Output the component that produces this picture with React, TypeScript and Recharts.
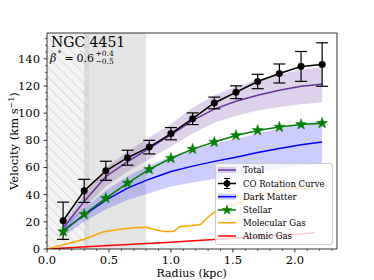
import React from 'react';
import {
  ComposedChart,
  Line,
  Area,
  XAxis,
  YAxis,
  ReferenceArea,
  ReferenceLine,
  ErrorBar,
  Legend,
} from 'recharts';

// ---------------- data ----------------
const radii = [0.13, 0.3, 0.475, 0.65, 0.825, 1.0, 1.175, 1.35, 1.525, 1.7, 1.875, 2.05, 2.22];
const coVelocity = [20.8, 42.8, 57.6, 67.2, 75.0, 84.9, 95.9, 107.5, 115.4, 123.3, 129.2, 134.4, 135.8];
const coError = [13.7, 8.5, 7.0, 5.5, 5.0, 4.5, 4.3, 4.3, 4.7, 5.3, 7.0, 11.0, 16.0];
const totalModel = [15.5, 35, 53.4, 64.4, 74, 84, 94.7, 103, 108.7, 113.2, 116.8, 119.8, 121.3];
const totalLow = [12, 30, 46, 57, 66, 75.5, 85, 93, 98, 102, 104.5, 106.5, 108];
const totalHigh = [19, 40, 60, 72, 82, 92, 104, 113, 119.5, 124.5, 128.5, 132, 134];
const darkMatter = [13.5, 25, 36, 44.8, 51.4, 57, 61, 64.5, 67.5, 71, 74, 76.7, 78.7];
const darkLow = [9, 20, 29, 36, 41, 46, 49, 51.5, 54, 56.5, 59, 61.5, 63];
const darkHigh = [17.7, 30, 43, 53.5, 61.5, 68, 73, 77.5, 81, 85, 88.5, 92, 94.7];
const stellar = [12.8, 25.6, 37.4, 48.5, 58.6, 66.8, 73.5, 78.7, 83.6, 87.3, 89.8, 91.7, 92.6];

const molRadii = [0, 0.1, 0.2, 0.3, 0.39, 0.45, 0.51, 0.59, 0.7, 0.8, 0.86, 0.94, 1.02, 1.074, 1.155, 1.24, 1.27, 1.32, 1.37, 1.43, 1.5, 1.61, 1.745, 1.88, 1.985, 2.16];
const molVelocity = [0, 2.5, 4.8, 7.2, 10.3, 12.5, 13.5, 14.5, 15.7, 16, 14.5, 12.8, 12.8, 16.5, 17.2, 18, 21, 25, 28.5, 30.5, 32.5, 36.2, 39.9, 43, 44.8, 44];

const atomRadii = [0, 0.5, 1.0, 1.155, 1.5, 1.75, 2.0, 2.16];
const atomVelocity = [0, 2.6, 5.0, 5.9, 8.0, 9.4, 10.9, 12];

const xTicks = [0, 0.1, 0.2, 0.3, 0.4, 0.5, 0.6, 0.7, 0.8, 0.9, 1.0, 1.1, 1.2, 1.3, 1.4, 1.5, 1.6, 1.7, 1.8, 1.9, 2.0, 2.1, 2.2, 2.3];
const xMajor = [0, 0.5, 1.0, 1.5, 2.0];
const yTicks = [0, 5, 10, 15, 20, 25, 30, 35, 40, 45, 50, 55, 60, 65, 70, 75, 80, 85, 90, 95, 100, 105, 110, 115, 120, 125, 130, 135, 140, 145, 150, 155];
const yMajor = [0, 20, 40, 60, 80, 100, 120, 140];

const legendLabels = ['Total', 'CO Rotation Curve', 'Dark Matter', 'Stellar', 'Molecular Gas', 'Atomic Gas'];

const modelData = radii.map((r, i) => ({
  r,
  co: coVelocity[i],
  coErr: coError[i],
  total: totalModel[i],
  totalBand: [totalLow[i], totalHigh[i]],
  dm: darkMatter[i],
  dmBand: [darkLow[i], darkHigh[i]],
  stellar: stellar[i],
}));
const molData = molRadii.map((r, i) => ({ r, v: molVelocity[i] }));
const atomData = atomRadii.map((r, i) => ({ r, v: atomVelocity[i] }));

// ---------------- styling ----------------
const FONT = '"DejaVu Serif", serif';
const PURPLE = '#663399';
const BLUE = '#0000ff';
const GREEN = '#008000';
const ORANGE = '#ffa500';
const RED = '#ff0000';

const starPoints = (cx: number, cy: number, ro: number, ri: number) => {
  const pts: string[] = [];
  for (let k = 0; k < 10; k++) {
    const rad = k % 2 === 0 ? ro : ri;
    const a = -Math.PI / 2 + (k * Math.PI) / 5;
    pts.push(`${cx + rad * Math.cos(a)},${cy + rad * Math.sin(a)}`);
  }
  return pts.join(' ');
};

const StarDot = (props: any) => {
  const { cx, cy, index } = props;
  if (cx == null || cy == null) return <g key={`s${index}`} />;
  return <polygon key={`s${index}`} points={starPoints(cx, cy, 5.8, 2.3)} fill={GREEN} stroke={GREEN} strokeWidth={0.5} />;
};

const near = (arr: number[], v: number) => arr.some((m) => Math.abs(m - v) < 1e-6);

const XTick = (props: any) => {
  const { x, y, payload } = props;
  const v = payload.value as number;
  const major = near(xMajor, v);
  return (
    <g>
      <line x1={x} x2={x} y1={y} y2={y + (major ? 3.5 : 2)} stroke="#000" strokeWidth={major ? 0.8 : 0.6} />
      {major && (
        <text x={x} y={y + 15} textAnchor="middle" fontSize={11.5} fontFamily={FONT} fill="#000">
          {v.toFixed(1)}
        </text>
      )}
    </g>
  );
};

const YTick = (props: any) => {
  const { x, y, payload } = props;
  const v = payload.value as number;
  const major = near(yMajor, v);
  return (
    <g>
      <line x1={x} x2={x - (major ? 3.5 : 2)} y1={y} y2={y} stroke="#000" strokeWidth={major ? 0.8 : 0.6} />
      {major && (
        <text x={x - 7} y={y + 4} textAnchor="end" fontSize={11.5} fontFamily={FONT} fill="#000">
          {String(v)}
        </text>
      )}
    </g>
  );
};

const LegendBox = () => {
  const rowY = [7, 20.5, 33.7, 47, 59.7, 73];
  const hx0 = 3;
  const hx1 = 21;
  const hmid = 12;
  return (
    <svg width={118} height={82} style={{ display: 'block', overflow: 'visible' }}>
      <rect x={0.5} y={0.5} width={117} height={81} rx={2.5} ry={2.5} fill="#ffffff" fillOpacity={0.8} stroke="#cccccc" strokeWidth={1} />
      {/* Total */}
      <rect x={hx0} y={rowY[0] - 3} width={hx1 - hx0} height={6} fill={PURPLE} fillOpacity={0.22} />
      <line x1={hx0} x2={hx1} y1={rowY[0]} y2={rowY[0]} stroke={PURPLE} strokeWidth={1.5} />
      {/* CO */}
      <line x1={hx0} x2={hx1} y1={rowY[1]} y2={rowY[1]} stroke="#000" strokeWidth={1.5} />
      <line x1={hmid} x2={hmid} y1={rowY[1] - 5} y2={rowY[1] + 5} stroke="#000" strokeWidth={1.2} />
      <line x1={hmid - 3} x2={hmid + 3} y1={rowY[1] - 5} y2={rowY[1] - 5} stroke="#000" strokeWidth={1} />
      <line x1={hmid - 3} x2={hmid + 3} y1={rowY[1] + 5} y2={rowY[1] + 5} stroke="#000" strokeWidth={1} />
      <circle cx={hmid} cy={rowY[1]} r={3.3} fill="#000" />
      {/* Dark matter */}
      <rect x={hx0} y={rowY[2] - 3} width={hx1 - hx0} height={6} fill={BLUE} fillOpacity={0.2} />
      <line x1={hx0} x2={hx1} y1={rowY[2]} y2={rowY[2]} stroke={BLUE} strokeWidth={1.5} />
      {/* Stellar */}
      <line x1={hx0} x2={hx1} y1={rowY[3]} y2={rowY[3]} stroke={GREEN} strokeWidth={1.5} />
      <polygon points={starPoints(hmid, rowY[3], 5.8, 2.3)} fill={GREEN} />
      {/* Gas */}
      <line x1={hx0} x2={hx1} y1={rowY[4]} y2={rowY[4]} stroke={ORANGE} strokeWidth={1.5} />
      <line x1={hx0} x2={hx1} y1={rowY[5]} y2={rowY[5]} stroke={RED} strokeWidth={1.5} />
      {legendLabels.map((t, i) => (
        <text key={t} x={28} y={rowY[i] + 3} fontSize={8.5} fontFamily={FONT} fill="#000">
          {t}
        </text>
      ))}
    </svg>
  );
};

export default function App() {
  return (
    <div style={{ position: 'absolute', left: 0, top: 0, width: 374, height: 280, background: '#fff' }}>
      <ComposedChart
        width={374}
        height={280}
        data={modelData}
        margin={{ top: 33, right: 37, bottom: 0, left: 0 }}
      >
        <defs>
          <pattern id="hatch" patternUnits="userSpaceOnUse" width={7} height={7} patternTransform="rotate(-45)">
            <line x1={0} y1={0} x2={0} y2={7} stroke="#c4c4c4" strokeWidth={1} />
          </pattern>
        </defs>
        <XAxis
          dataKey="r"
          type="number"
          domain={[0, 2.34]}
          allowDataOverflow
          ticks={xTicks}
          interval={0}
          tickSize={0}
          tickMargin={0}
          tick={<XTick />}
          tickLine={false}
          axisLine={{ stroke: '#000', strokeWidth: 0.8 }}
          height={31}
        />
        <YAxis
          type="number"
          domain={[0, 159]}
          allowDataOverflow
          ticks={yTicks}
          interval={0}
          tickSize={0}
          tickMargin={0}
          tick={<YTick />}
          tickLine={false}
          axisLine={{ stroke: '#000', strokeWidth: 0.8 }}
          width={47}
        />
        <ReferenceArea x1={0} x2={0.8} fill="#e5e5e5" fillOpacity={1} stroke="none" />
        <ReferenceArea x1={0} x2={0.3} fill="#f3f3f3" fillOpacity={1} stroke="none" />
        <ReferenceArea x1={0.3} x2={0.34} fill="#dcdcdc" fillOpacity={1} stroke="none" />
        <ReferenceArea x1={0} x2={0.34} fill="url(#hatch)" fillOpacity={1} stroke="none" />
        <Area dataKey="totalBand" stroke="none" fill={PURPLE} fillOpacity={0.22} isAnimationActive={false} />
        <Area dataKey="dmBand" stroke="none" fill={BLUE} fillOpacity={0.2} isAnimationActive={false} />
        <Line data={atomData} dataKey="v" stroke={RED} strokeWidth={1.5} dot={false} isAnimationActive={false} />
        <Line data={molData} dataKey="v" stroke={ORANGE} strokeWidth={1.5} dot={false} isAnimationActive={false} />
        <Line dataKey="dm" stroke={BLUE} strokeWidth={1.5} dot={false} isAnimationActive={false} />
        <Line dataKey="stellar" stroke={GREEN} strokeWidth={1.5} dot={<StarDot />} isAnimationActive={false} />
        <Line dataKey="total" stroke={PURPLE} strokeWidth={1.5} dot={false} isAnimationActive={false} />
        <Line
          dataKey="co"
          stroke="#000"
          strokeWidth={1.5}
          dot={{ r: 3.3, fill: '#000', stroke: '#000', strokeWidth: 0.5 }}
          isAnimationActive={false}
        >
          <ErrorBar dataKey="coErr" width={6} stroke="#000" strokeWidth={1.2} direction="y" />
        </Line>
        <ReferenceLine y={159} stroke="#000" strokeWidth={0.8} />
        <ReferenceLine x={2.34} stroke="#000" strokeWidth={0.8} />
        <Legend
          layout="vertical"
          align="center"
          verticalAlign="middle"
          content={() => <LegendBox />}
          wrapperStyle={{ position: 'absolute', left: 215, top: 163, width: 118, height: 82 }}
        />
      </ComposedChart>
      <svg
        width={374}
        height={280}
        style={{ position: 'absolute', left: 0, top: 0, pointerEvents: 'none' }}
      >
        <text x={51} y={46.7} fontSize={14} fontFamily={FONT} fill="#000">NGC 4451</text>
        <text x={50} y={61.5} fontSize={11} fontFamily={FONT} fontStyle="italic" fill="#000">β</text>
        <text x={57.5} y={56} fontSize={8} fontFamily={FONT} fill="#000">*</text>
        <text x={64.5} y={61.5} fontSize={11} fontFamily={FONT} fill="#000">=</text>
        <text x={76.5} y={61.5} fontSize={11} fontFamily={FONT} fill="#000">0.6</text>
        <text x={95.5} y={55.5} fontSize={7.5} fontFamily={FONT} fill="#000">+0.4</text>
        <text x={95.5} y={64} fontSize={7.5} fontFamily={FONT} fill="#000">−0.5</text>
        <text x={191.7} y={276.5} textAnchor="middle" fontSize={11} fontFamily={FONT} fill="#000">Radius (kpc)</text>
        <text
          x={18}
          y={141}
          textAnchor="middle"
          fontSize={11.5}
          fontFamily={FONT}
          fill="#000"
          transform="rotate(-90, 18, 141)"
        >
          Velocity (km s<tspan dy={-4} fontSize={8}>−1</tspan><tspan dy={4}>)</tspan>
        </text>
      </svg>
    </div>
  );
}
